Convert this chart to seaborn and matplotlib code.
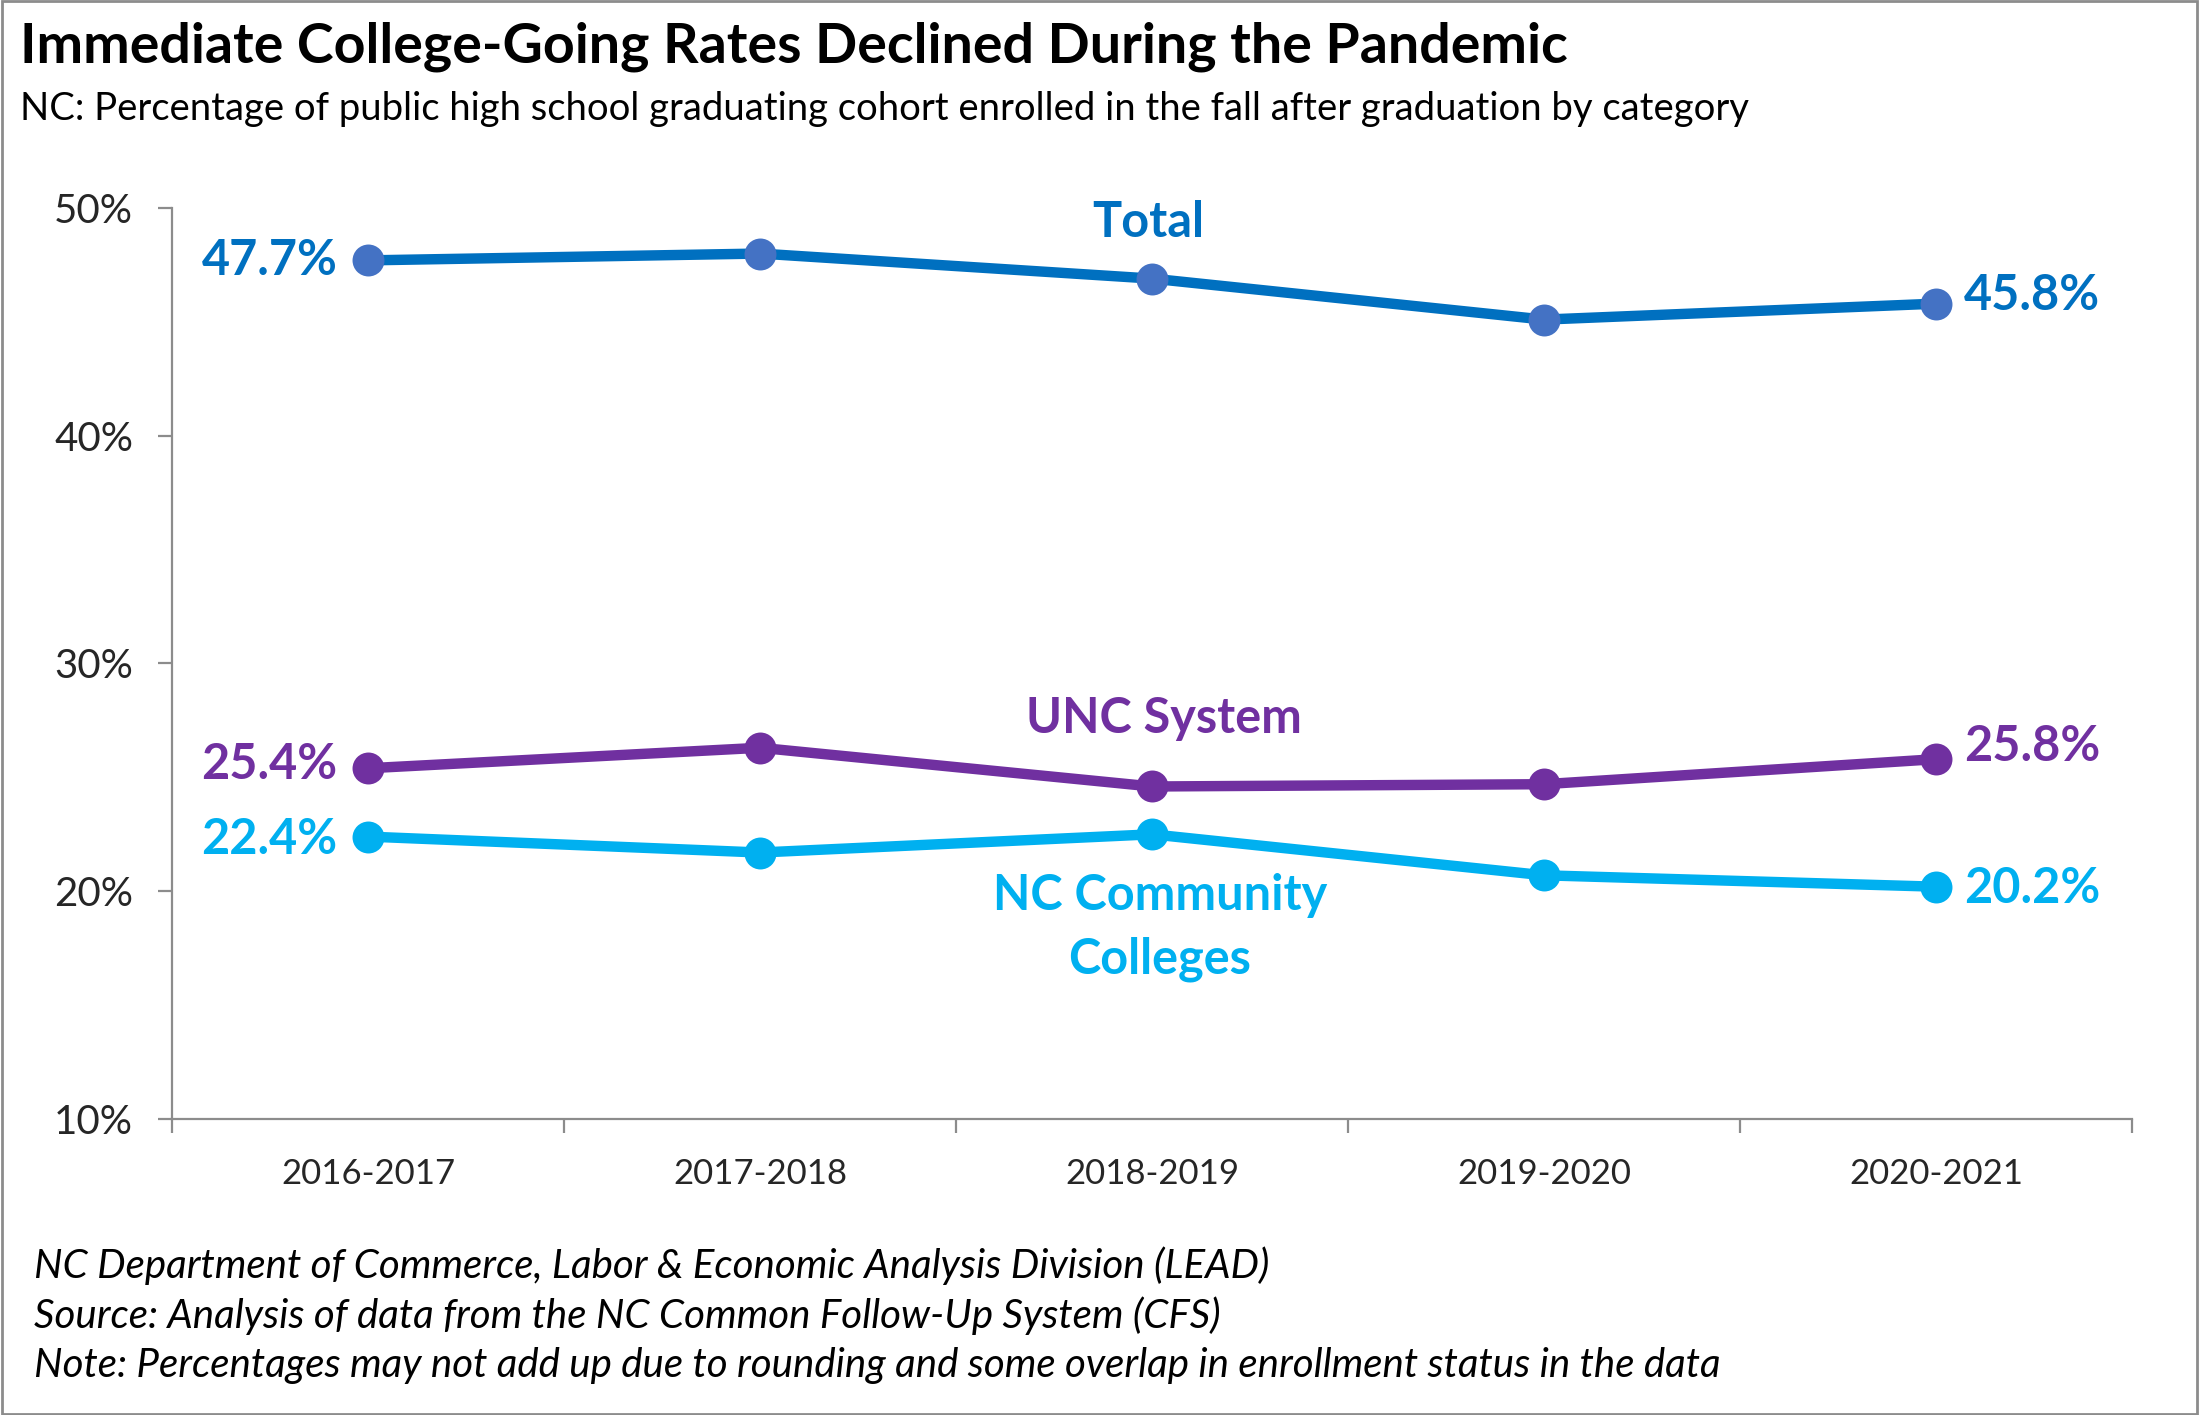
import numpy as np
import pandas as pd
import matplotlib
matplotlib.use('Agg')
import matplotlib.pyplot as plt
import matplotlib.patches as mpatches
from matplotlib.ticker import FixedLocator, PercentFormatter
import seaborn as sns

# ---------------- data ----------------
years = ['2016-2017', '2017-2018', '2018-2019', '2019-2020', '2020-2021']
total = [47.7, 48.0, 46.9, 45.1, 45.8]
unc_system = [25.4, 26.3, 24.6, 24.7, 25.8]
community_colleges = [22.4, 21.7, 22.5, 20.7, 20.2]

series_names = ['Total', 'UNC System', 'NC Community\nColleges']
series_values = [total, unc_system, community_colleges]
line_colors = ['#0070C0', '#7030A0', '#00B0F0']
marker_colors = ['#4472C4', '#7030A0', '#00B0F0']

title = 'Immediate College-Going Rates Declined During the Pandemic'
subtitle = ('NC: Percentage of public high school graduating cohort enrolled '
            'in the fall after graduation by category')
footer = ['NC Department of Commerce, Labor & Economic Analysis Division (LEAD)',
          'Source: Analysis of data from the NC Common Follow-Up System (CFS)',
          'Note: Percentages may not add up due to rounding and some overlap '
          'in enrollment status in the data']

df = pd.DataFrame({
    'year': years * 3,
    'rate': total + unc_system + community_colleges,
    'series': [n for n in series_names for _ in years],
})

# ---------------- figure ----------------
sns.set_style('white')
plt.rcParams['font.family'] = ['Lato', 'DejaVu Sans']

W, H = 2199, 1415
fig = plt.figure(figsize=(W / 100, H / 100), dpi=100)
ax = fig.add_axes([172 / W, 1 - 1119 / H, (2132 - 172) / W, (1119 - 208) / H])

for name, lc, mc in zip(series_names, line_colors, marker_colors):
    sub = df[df['series'] == name]
    sns.lineplot(data=sub, x='year', y='rate', ax=ax, color=lc, linewidth=7.5,
                 marker='o', markersize=23, markerfacecolor=mc,
                 markeredgecolor=mc, markeredgewidth=0, sort=False)

ax.set_xlim(-0.5, len(years) - 0.5)
ax.set_ylim(10, 50)
ax.set_yticks([10, 20, 30, 40, 50])
ax.yaxis.set_major_formatter(PercentFormatter(decimals=0))
ax.set_xlabel('')
ax.set_ylabel('')

# spines / ticks
for side in ['top', 'right']:
    ax.spines[side].set_visible(False)
for side in ['left', 'bottom']:
    ax.spines[side].set_color('#8C8C8C')
    ax.spines[side].set_linewidth(1.6)
ax.tick_params(axis='y', which='major', direction='out', length=10, width=1.6,
               color='#8C8C8C', labelsize=29, pad=18, left=True)
ax.tick_params(axis='x', which='major', length=0, labelsize=25, pad=28)
ax.xaxis.set_minor_locator(FixedLocator(np.arange(-0.5, len(years), 1.0)))
ax.tick_params(axis='x', which='minor', direction='out', length=10, width=1.6,
               color='#8C8C8C', bottom=True)

# value labels at both ends (left, right vertical nudges in points)
nudges = [(0, 6), (3, 9), (-2, -1)]
for vals, lc, (nl, nr) in zip(series_values, line_colors, nudges):
    ax.annotate(f'{vals[0]:.1f}%', (0, vals[0]), xytext=(-22, nl),
                textcoords='offset points', ha='right', va='center',
                fontsize=35, fontweight='bold', color=lc)
    ax.annotate(f'{vals[-1]:.1f}%', (len(years) - 1, vals[-1]), xytext=(20, nr),
                textcoords='offset points', ha='left', va='center',
                fontsize=35, fontweight='bold', color=lc)

# series names
label_pos = [(1.99, 49.35), (2.03, 27.6), (2.02, 18.4)]
for name, lc, (lx, ly) in zip(series_names, line_colors, label_pos):
    ax.text(lx, ly, name, ha='center', va='center', fontsize=35,
            fontweight='bold', color=lc, linespacing=1.5)

# titles and notes
fig.text(20 / W, 1 - 47 / H, title, ha='left', va='center',
         fontsize=40, fontweight='bold', color='black')
fig.text(20 / W, 1 - 109 / H, subtitle, ha='left', va='center',
         fontsize=27.5, color='black')
for i, line in enumerate(footer):
    fig.text(34 / W, 1 - (1266 + 50 * i) / H, line, ha='left', va='center',
             fontsize=29, fontstyle='italic', color='black')

# grey frame around the whole chart
fig.patches.append(mpatches.Rectangle((0.001, 0.001), 0.998, 0.998,
                                      transform=fig.transFigure, fill=False,
                                      edgecolor='#8C8C8C', linewidth=2))

fig.savefig('out.png', dpi=100)
